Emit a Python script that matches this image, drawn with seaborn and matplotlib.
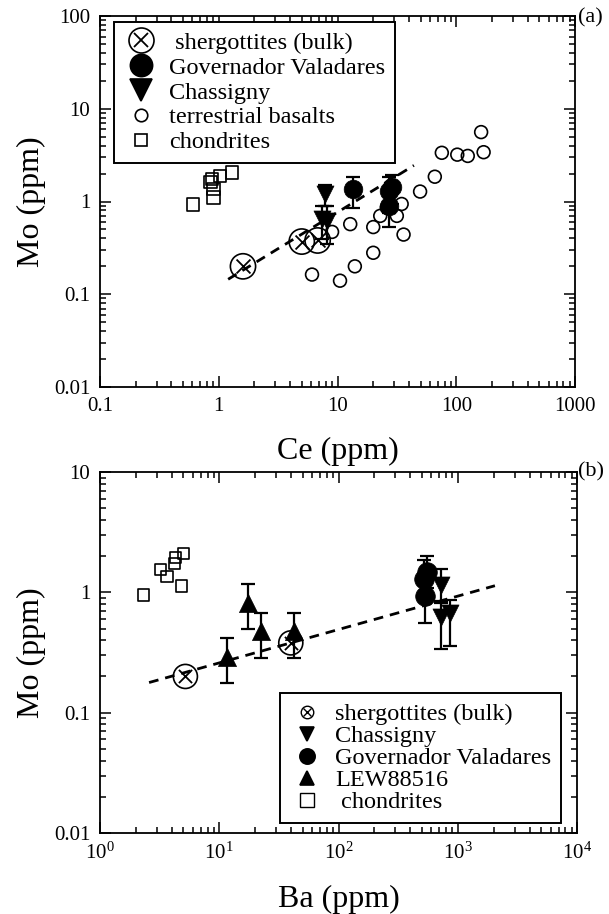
import numpy as np
import pandas as pd
import seaborn as sns
import matplotlib.pyplot as plt
import matplotlib.ticker as mticker
from matplotlib.lines import Line2D

# ---- panel (a): Mo vs Ce ----
sherg_ce = [1.6, 5.0, 6.8]
sherg_mo_a = [0.2, 0.37, 0.38]

gv_ce = [13.5, 27, 29, 27]
gv_mo_a = [1.35, 1.3, 1.45, 0.9]
gv_err_a = [0.5, 0.55, 0.5, 0.37]

chas_ce = [7.8, 7.4, 8.2]
chas_mo_a = [1.2, 0.64, 0.62]
chas_err_a = [0.3, 0.25, 0.27]

basalt_ce = [6.1, 10.5, 14, 20, 36, 20, 12.8, 9.0, 31.6, 22.9, 26, 34.7,
             49.6, 66, 75.6, 102, 125, 170, 162]
basalt_mo = [0.163, 0.14, 0.2, 0.28, 0.44, 0.53, 0.57, 0.47, 0.7, 0.7, 0.86, 0.94,
             1.28, 1.85, 3.35, 3.2, 3.1, 3.4, 5.6]

chond_ce = [0.61, 0.85, 0.9, 0.9, 1.03, 1.29, 0.88]
chond_mo_a = [0.93, 1.62, 1.36, 1.1, 1.88, 2.06, 1.75]

fit_ce = [1.2, 44]
fit_mo_a = [0.145, 2.45]

# ---- panel (b): Mo vs Ba ----
sherg_ba = [5.2, 39.8]
sherg_mo_b = [0.2, 0.38]

chas_ba = [720, 720, 860]
chas_mo_b = [1.15, 0.62, 0.67]
chas_lo_b = [0.3, 0.28, 0.31]
chas_hi_b = [0.42, 0.2, 0.2]

gv_ba = [520, 550, 530]
gv_mo_b = [1.3, 1.48, 0.93]
gv_lo_b = [0.4, 0.4, 0.37]
gv_hi_b = [0.55, 0.52, 0.35]

lew_ba = [11.7, 17.4, 22.6, 42]
lew_mo = [0.29, 0.81, 0.48, 0.48]
lew_lo = [0.115, 0.315, 0.196, 0.196]
lew_hi = [0.127, 0.36, 0.19, 0.19]

chond_ba = [2.3, 3.2, 3.65, 4.2, 4.3, 5.0, 4.8]
chond_mo_b = [0.95, 1.56, 1.36, 1.75, 1.96, 2.12, 1.13]

fit_ba = [2.58, 2050]
fit_mo_b = [0.178, 1.135]

sns.set_theme(style='ticks')
plt.rcParams['font.family'] = ['Liberation Serif', 'DejaVu Serif']
plt.rcParams['mathtext.fontset'] = 'stix'
plt.rcParams['axes.edgecolor'] = 'black'
plt.rcParams['axes.labelcolor'] = 'black'
plt.rcParams['text.color'] = 'black'
plt.rcParams['xtick.color'] = 'black'
plt.rcParams['ytick.color'] = 'black'

fig = plt.figure(figsize=(6.09, 9.14), dpi=100)
ax1 = fig.add_axes([100 / 609, 1 - 387 / 914, 475 / 609, 371 / 914])
ax2 = fig.add_axes([100 / 609, 1 - 833 / 914, 477 / 609, 361 / 914])


def open_pts(ax, x, y, marker, s, lw=1.2):
    sns.scatterplot(x=x, y=y, marker=marker, s=s, facecolor='none',
                    edgecolor='black', linewidth=lw, ax=ax, zorder=4)


def filled_pts(ax, x, y, marker, s):
    sns.scatterplot(x=x, y=y, marker=marker, s=s, color='black',
                    edgecolor='black', linewidth=0.5, ax=ax, zorder=5)


def otimes(ax, x, y, s_o, s_x):
    open_pts(ax, x, y, 'o', s_o)
    sns.scatterplot(x=x, y=y, marker='x', s=s_x, color='black',
                    linewidth=1.3, ax=ax, zorder=4)


def fit(ax, x, y):
    sns.lineplot(x=x, y=y, color='black', linewidth=2, ax=ax, zorder=3,
                 dashes=False).lines[-1].set_dashes([3.5, 2.5])


def ebar(ax, x, y, lo, hi):
    ax.errorbar(x, y, yerr=[lo, hi], fmt='none', ecolor='black',
                elinewidth=1.6, capsize=5, capthick=1.6, zorder=2)


# panel (a)
fit(ax1, fit_ce, fit_mo_a)
open_pts(ax1, basalt_ce, basalt_mo, 'o', 85)
open_pts(ax1, chond_ce, chond_mo_a, 's', 80)
ebar(ax1, gv_ce, gv_mo_a, gv_err_a, gv_err_a)
ebar(ax1, chas_ce, chas_mo_a, chas_err_a, chas_err_a)
filled_pts(ax1, gv_ce, gv_mo_a, 'o', 180)
filled_pts(ax1, chas_ce, chas_mo_a, 'v', 150)
otimes(ax1, sherg_ce, sherg_mo_a, 330, 100)

# panel (b)
fit(ax2, fit_ba, fit_mo_b)
open_pts(ax2, chond_ba, chond_mo_b, 's', 64)
ebar(ax2, lew_ba, lew_mo, lew_lo, lew_hi)
ebar(ax2, gv_ba, gv_mo_b, gv_lo_b, gv_hi_b)
ebar(ax2, chas_ba, chas_mo_b, chas_lo_b, chas_hi_b)
filled_pts(ax2, lew_ba, lew_mo, '^', 170)
filled_pts(ax2, gv_ba, gv_mo_b, 'o', 200)
filled_pts(ax2, chas_ba, chas_mo_b, 'v', 150)
otimes(ax2, sherg_ba, sherg_mo_b, 300, 90)

for ax in (ax1, ax2):
    ax.set_xscale('log')
    ax.set_yscale('log')
    ax.tick_params(which='both', direction='in', top=True, right=True,
                   labelsize=15, width=1.1, pad=7)
    ax.tick_params(which='major', length=8)
    ax.tick_params(which='minor', length=4)
    for sp in ax.spines.values():
        sp.set_linewidth(1.3)
    ax.set_ylabel('Mo (ppm)', fontsize=23, labelpad=6)
    ax.yaxis.set_major_formatter(mticker.FuncFormatter(lambda v, p: f'{v:g}'))

ax1.set_xlim(0.1, 1000)
ax1.set_ylim(0.01, 100)
ax1.xaxis.set_major_formatter(mticker.FuncFormatter(lambda v, p: f'{v:g}'))
ax1.set_xlabel('Ce (ppm)', fontsize=23, labelpad=15)
ax2.set_xlim(1, 1e4)
ax2.set_ylim(0.01, 10)
ax2.set_xlabel('Ba (ppm)', fontsize=23, labelpad=15)

fig.text(578 / 609, 1 - 18 / 914, '(a)', fontsize=16, va='center')
fig.text(578 / 609, 1 - 472 / 914, '(b)', fontsize=16, va='center')


def mk(marker, ms, filled=True, mew=1.2):
    return Line2D([], [], linestyle='none', marker=marker, markersize=ms,
                  markerfacecolor='black' if filled else 'none',
                  markeredgecolor='black', markeredgewidth=mew)


leg_kw = dict(fontsize=17.5, frameon=True, fancybox=False, framealpha=1,
              edgecolor='black', borderpad=0.4, handlelength=1.4,
              handletextpad=0.45, borderaxespad=0)

h_a = [(mk('o', 18, False), mk('x', 10, mew=1.3)), mk('o', 16), mk('v', 16),
       mk('o', 9, False), mk('s', 9, False)]
l_a = [' shergottites (bulk)', 'Governador Valadares', 'Chassigny',
       'terrestrial basalts', 'chondrites']
leg1 = ax1.legend(h_a, l_a, loc='upper left', bbox_to_anchor=(0.0295, 0.984),
                  labelspacing=0.12, **leg_kw)
leg1.get_frame().set_linewidth(1.4)

h_b = [(mk('o', 9, False, 1.0), mk('x', 6, mew=1.0)), mk('v', 10), mk('o', 11),
       mk('^', 10), mk('s', 10, False, 1.0)]
l_b = ['shergottites (bulk)', 'Chassigny', 'Governador Valadares', 'LEW88516',
       ' chondrites']
leg2 = ax2.legend(h_b, l_b, loc='lower right', bbox_to_anchor=(0.966, 0.028),
                  labelspacing=0.0, **leg_kw)
leg2.get_frame().set_linewidth(1.4)

fig.savefig('out.png', dpi=100)
